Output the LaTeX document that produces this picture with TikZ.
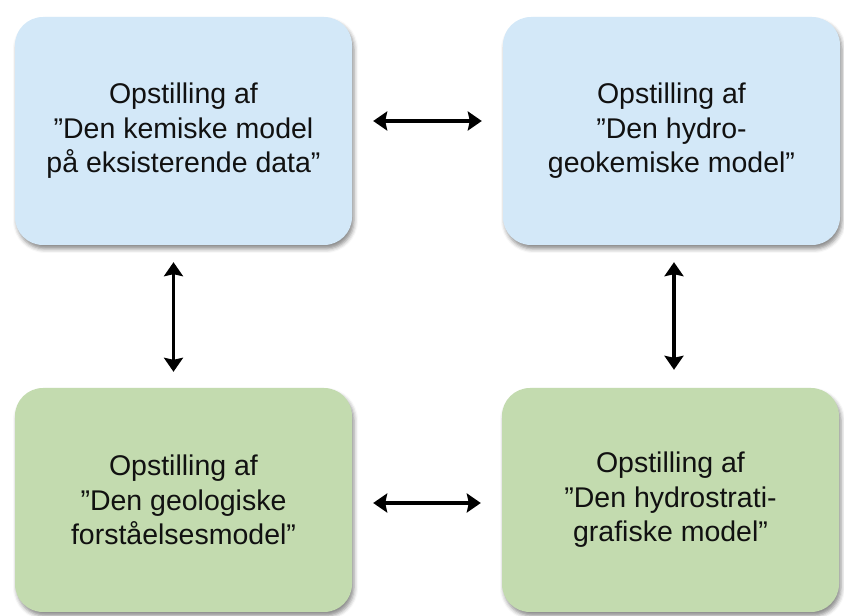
\documentclass[tikz,border=0pt]{standalone}
\usepackage{fontspec}
\setmainfont{Liberation Sans}
\usetikzlibrary{arrows.meta,shadows.blur}
\definecolor{boxblue}{HTML}{D3E8F8}
\definecolor{boxgreen}{HTML}{C3DBAF}
\definecolor{txt}{HTML}{111111}
\tikzset{
  modelbox/.style={rounded corners=28pt, align=center, text=txt,
    font=\fontsize{28.5}{34.5}\selectfont, inner sep=0pt,
    minimum width=337pt,
    blur shadow={shadow xshift=2pt, shadow yshift=-4pt,
      shadow blur radius=4pt, shadow opacity=45}},
  bluebox/.style={modelbox, fill=boxblue, minimum height=228pt},
  greenbox/.style={modelbox, fill=boxgreen, minimum height=224pt},
  link/.style={line width=3.6pt, {Stealth[width=19pt,length=14pt,inset=2pt]}-{Stealth[width=19pt,length=14pt,inset=2pt]}}
}
\begin{document}
\begin{tikzpicture}[x=1pt,y=1pt]
\useasboundingbox (0,0) rectangle (844,616);
\node[bluebox] (kem) at (183.5,485) {Opstilling af\\”Den kemiske model\\på eksisterende data”};
\node[bluebox] (hyd) at (671.5,485) {Opstilling af\\”Den hydro-\\geokemiske model”};
\node[greenbox] (geo) at (183.5,116) {Opstilling af\\”Den geologiske\\forståelsesmodel”};
\node[greenbox] (hst) at (670.5,116) {Opstilling af\\”Den hydrostrati-\\grafiske model”};
\draw[link, shorten <=21pt, shorten >=21pt] ([yshift=10pt]kem.east) -- ([yshift=10pt]hyd.west);
\draw[link, shorten <=21pt, shorten >=21pt] ([yshift=-3pt]geo.east) -- ([yshift=-3pt]hst.west);
\draw[link, shorten <=17pt, shorten >=16pt] ([xshift=-10pt]kem.south) -- ([xshift=-10pt]geo.north);
\draw[link, shorten <=17pt, shorten >=18pt] ([xshift=2.5pt]hyd.south) -- ([xshift=3.5pt]hst.north);
\end{tikzpicture}
\end{document}
